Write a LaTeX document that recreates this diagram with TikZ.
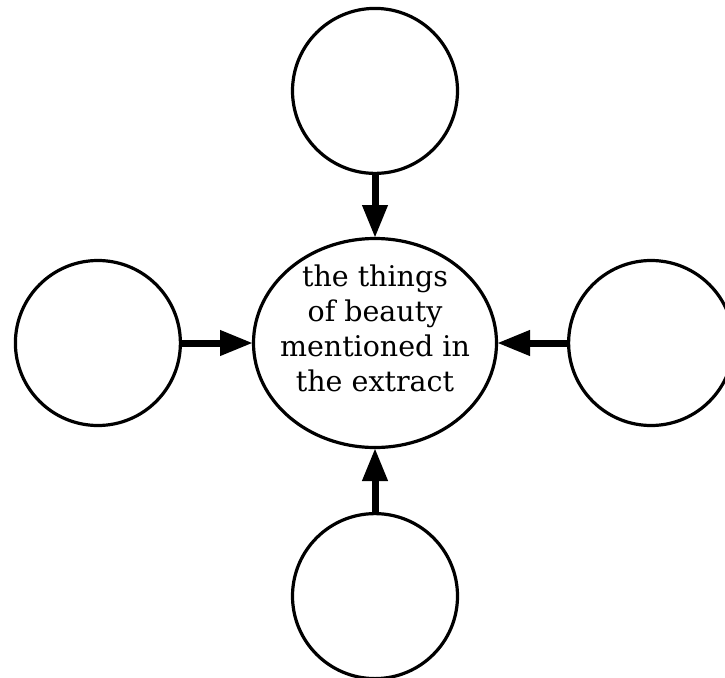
\documentclass[tikz,border=0pt]{standalone}
\usepackage{fontspec}
\usepackage{xcolor}
\usepackage{tikz}
\usetikzlibrary{shapes.geometric, arrows.meta, positioning}
\newfontfamily\hubfont{DejaVu Serif}
\definecolor{inkblack}{RGB}{0, 0, 0}
\tikzset{
  hub/.style={ellipse, draw=inkblack, line width=3.2pt, fill=white,
              minimum width=243pt, minimum height=209pt, align=center,
              inner sep=-24pt, outer sep=0.5pt, text depth=30pt,
              font=\hubfont\fontsize{28.5}{35}\selectfont},
  spoke/.style={circle, draw=inkblack, line width=3.2pt, fill=white,
              minimum size=165pt, inner sep=0pt},
  arrow/.style={-{Triangle[length=33pt, width=24pt]}, line width=7pt, color=inkblack},
}
\begin{document}
\begin{tikzpicture}[x=1pt, y=-1pt]
  \useasboundingbox (0,0) rectangle (725,677);
  \node[hub] (hub) at (375,343)
        {the things\\of beauty\\mentioned in\\the extract};

  \node[spoke, above=63pt of hub] (top) {};
  \node[spoke, below=64pt of hub] (bottom) {};
  \node[spoke, left=71pt of hub] (left) {};
  \node[spoke, right=70pt of hub] (right) {};

  \draw[arrow] (top) -- (hub);
  \draw[arrow] (bottom) -- (hub);
  \draw[arrow] (left) -- (hub);
  \draw[arrow] (right) -- (hub);
\end{tikzpicture}
\end{document}
